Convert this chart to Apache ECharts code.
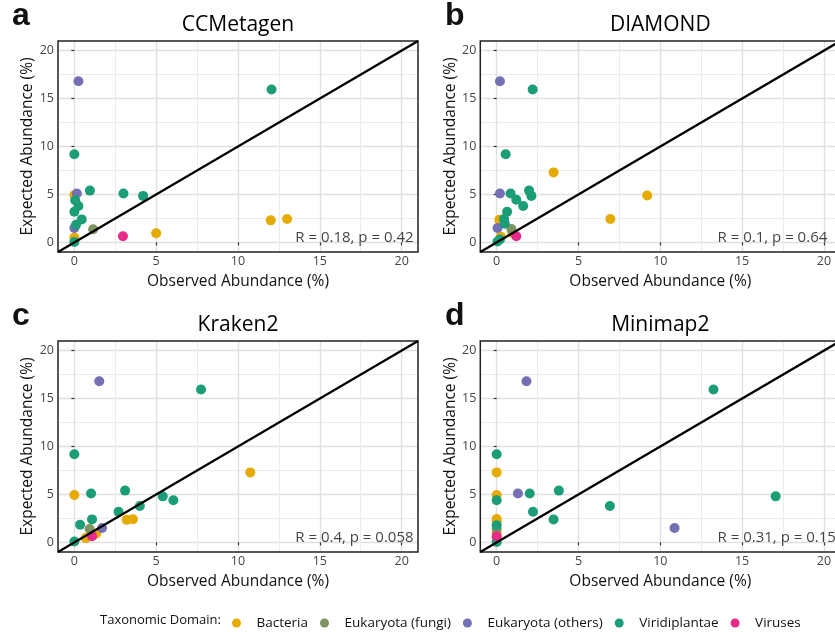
<!DOCTYPE html>
<html>
<head>
<meta charset="utf-8">
<script src="https://cdn.jsdelivr.net/npm/echarts@6/dist/echarts.min.js"></script>
<style>
  html, body { margin: 0; padding: 0; background: #fff; }
  #chart { width: 835px; height: 632px; }
</style>
</head>
<body>
<div id="chart"></div>
<script>
const domains = ["Bacteria", "Eukaryota (fungi)", "Eukaryota (others)", "Viridiplantae", "Viruses"];
const domainColors = ["#E6AB02", "#7E9460", "#7570B3", "#1B9E77", "#E7298A"];
const tools = ["CCMetagen", "DIAMOND", "Kraken2", "Minimap2"];
const panelLetters = ["a", "b", "c", "d"];
const corrLabels = ["R = 0.18, p = 0.42", "R = 0.1, p = 0.64", "R = 0.4, p = 0.058", "R = 0.31, p = 0.15"];
const majorTicks = [0, 5, 10, 15, 20];
const minorTicks = [2.5, 7.5, 12.5, 17.5];
const diagonal = [[-1, -1], [21, 21]];

// points are [observed, expected]
const ccmBacteria = [[0, 4.95], [0, 0.5], [5.0, 0.95], [12.0, 2.3], [13.0, 2.45]];
const ccmFungi = [[1.15, 1.38]];
const ccmOthers = [[0.25, 16.8], [0.15, 5.1], [0, 1.5]];
const ccmPlants = [[12.05, 15.95], [0, 9.2], [0.95, 5.4], [3.0, 5.1], [4.2, 4.85], [0.05, 4.4],
  [0.25, 3.8], [0, 3.2], [0.45, 2.4], [0.1, 1.85], [0, 0.05]];
const ccmViruses = [[2.97, 0.65]];

const dmdBacteria = [[3.48, 7.3], [9.2, 4.9], [6.95, 2.45], [0.16, 2.35], [0.95, 1.0], [0.25, 0.6]];
const dmdFungi = [[0.9, 1.4]];
const dmdOthers = [[0.2, 16.8], [0.2, 5.1], [0.05, 1.5]];
const dmdPlants = [[2.2, 15.95], [0.55, 9.2], [0.85, 5.1], [1.98, 5.4], [2.12, 4.85], [1.2, 4.45],
  [1.62, 3.8], [0.64, 3.2], [0.45, 2.45], [0.5, 1.95], [0.2, 0.3], [0.05, 0.1]];
const dmdViruses = [[1.2, 0.65]];

const krkBacteria = [[10.75, 7.3], [0, 4.95], [3.2, 2.35], [3.58, 2.42], [1.34, 0.93], [0.7, 0.45]];
const krkFungi = [[0.93, 1.4]];
const krkOthers = [[1.52, 16.8], [1.69, 1.5]];
const krkPlants = [[7.74, 15.95], [0, 9.2], [3.1, 5.4], [1.02, 5.1], [5.4, 4.8], [6.05, 4.4],
  [4.0, 3.8], [2.7, 3.2], [1.08, 2.4], [0.35, 1.85], [0, 0.1]];
const krkViruses = [[1.08, 0.65]];

const mmpBacteria = [[0, 7.3], [0, 4.95], [0, 2.45], [0, 2.2], [0, 0.95], [0, 0.5]];
const mmpFungi = [[0, 1.4]];
const mmpOthers = [[1.82, 16.8], [1.3, 5.1], [10.87, 1.5]];
const mmpPlants = [[13.25, 15.95], [0, 9.2], [3.8, 5.4], [2.02, 5.1], [17.05, 4.8], [0, 4.4],
  [6.92, 3.8], [2.22, 3.2], [3.48, 2.38], [0, 1.8], [0, 0.05]];
const mmpViruses = [[0, 0.65]];

const panelData = [
  [ccmBacteria, ccmFungi, ccmOthers, ccmPlants, ccmViruses],
  [dmdBacteria, dmdFungi, dmdOthers, dmdPlants, dmdViruses],
  [krkBacteria, krkFungi, krkOthers, krkPlants, krkViruses],
  [mmpBacteria, mmpFungi, mmpOthers, mmpPlants, mmpViruses],
];

const FONT = "Open Sans";
const gridBoxes = [
  { left: 58, top: 41, width: 360, height: 211 },
  { left: 480.3, top: 41, width: 360, height: 211 },
  { left: 58, top: 341, width: 360, height: 211 },
  { left: 480.3, top: 341, width: 360, height: 211 },
];

const grids = gridBoxes.map((g) => ({
  ...g,
  show: true,
  borderColor: "#222",
  borderWidth: 1.5,
  backgroundColor: "transparent",
  outerBoundsMode: "none",
  containLabel: false,
  z: 3,
}));

const xAxes = [];
const yAxes = [];
// major axes 0..3
gridBoxes.forEach((g, i) => {
  xAxes.push({
    gridIndex: i, type: "value", min: -1, max: 21,
    axisLine: { show: false },
    axisTick: { show: true, length: 3, customValues: majorTicks, lineStyle: { color: "#333", width: 1.2 } },
    axisLabel: { customValues: majorTicks, color: "#444", fontSize: 12.5, fontFamily: FONT, margin: 3 },
    splitLine: { show: true, lineStyle: { color: "#e0e0e0", width: 1.4 } },
    name: "Observed Abundance (%)", nameLocation: "middle", nameGap: 22,
    nameTextStyle: { color: "#111", fontSize: 15.5, fontFamily: FONT },
  });
  yAxes.push({
    gridIndex: i, type: "value", min: -1, max: 21,
    axisLine: { show: false },
    axisTick: { show: true, length: 3, customValues: majorTicks, lineStyle: { color: "#333", width: 1.2 } },
    axisLabel: { customValues: majorTicks, color: "#444", fontSize: 12.5, fontFamily: FONT, margin: 4 },
    splitLine: { show: true, lineStyle: { color: "#e0e0e0", width: 1.4 } },
    name: "Expected Abundance (%)", nameLocation: "middle", nameGap: 21,
    nameTextStyle: { color: "#111", fontSize: 15.5, fontFamily: FONT },
  });
});
// minor grid axes 4..7
gridBoxes.forEach((g, i) => {
  const minor = {
    gridIndex: i, type: "value", min: -1, max: 21,
    axisLine: { show: false },
    axisTick: { show: false, customValues: minorTicks },
    axisLabel: { show: false },
    splitLine: { show: true, lineStyle: { color: "#ececec", width: 1 } },
  };
  xAxes.push({ ...minor });
  yAxes.push({ ...minor, position: "left" });
});

const series = [];
panelData.forEach((groups, p) => {
  groups.forEach((pts, d) => {
    series.push({
      name: domains[d], type: "scatter", xAxisIndex: p, yAxisIndex: p,
      data: pts, symbolSize: 10,
      itemStyle: { color: domainColors[d], opacity: 1 },
      z: 4,
    });
  });
  series.push({
    type: "line", xAxisIndex: p, yAxisIndex: p, data: diagonal,
    symbol: "none", silent: true, z: 5,
    lineStyle: { color: "#000", width: 2.2 },
  });
  series.push({
    type: "scatter", xAxisIndex: p, yAxisIndex: p, data: [[13.5, 0.45]],
    symbolSize: 0, silent: true, z: 6,
    label: {
      show: true, position: "right", distance: 0,
      formatter: corrLabels[p], color: "#111", fontSize: 15, fontFamily: FONT,
    },
  });
});

const graphic = [];
gridBoxes.forEach((g, i) => {
  graphic.push({
    type: "text", x: g.left + g.width / 2, y: g.top - 16,
    style: { text: tools[i], fill: "#000", font: "21px '" + FONT + "'", textAlign: "center", textVerticalAlign: "middle" },
  });
  graphic.push({
    type: "text", x: (i % 2 === 0 ? 12 : 445), y: g.top - 25,
    style: { text: panelLetters[i], fill: "#111", font: "bold 32px 'Liberation Sans'", textAlign: "left", textVerticalAlign: "middle" },
  });
});
graphic.push({
  type: "text", x: 100, y: 620,
  style: { text: "Taxonomic Domain:", fill: "#111", font: "13px '" + FONT + "'", textAlign: "left", textVerticalAlign: "middle" },
});

const chart = echarts.init(document.getElementById("chart"), null, { renderer: "canvas" });
chart.setOption({
  backgroundColor: "#fff",
  animation: false,
  textStyle: { fontFamily: FONT },
  grid: grids,
  xAxis: xAxes,
  yAxis: yAxes,
  legend: {
    data: domains.map((n) => ({ name: n, icon: "circle" })),
    left: 227, top: 611,
    itemWidth: 30, itemHeight: 9, itemGap: 12,
    textStyle: { color: "#111", fontSize: 13.5, fontFamily: FONT },
    selectedMode: false,
  },
  graphic: graphic,
  series: series,
});
</script>
</body>
</html>
